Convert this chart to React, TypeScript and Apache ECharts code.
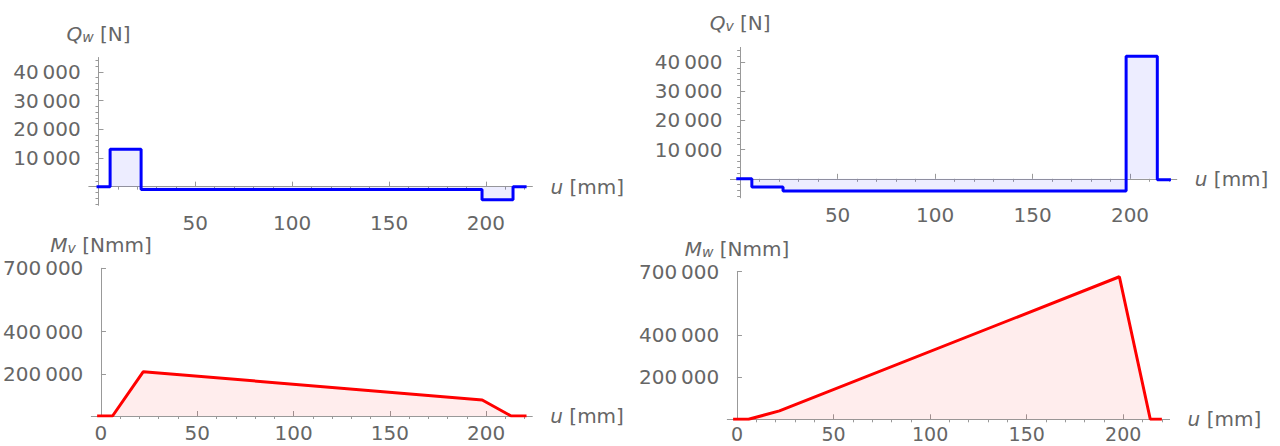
import React, { useEffect, useRef } from "react";
import * as echarts from "echarts";

// ---- data (u in mm, forces in N, moments in Nmm) ----
const qwPoints: [number, number][] = [[-1, 0], [6, 13000], [22, -1000], [198, -4600], [214, 0], [221, 0]];
const qvPoints: [number, number][] = [[-2, 0], [6, -2800], [22, -4200], [198, 42000], [214, -300], [221, -300]];
const mvPoints: [number, number][] = [[-2, 0], [6, 0], [22, 210000], [198, 76000], [213, 0], [221, 0]];
const mwPoints: [number, number][] = [[-2, 0], [6, 0], [22, 40000], [198, 676000], [214, 0], [220, 0]];

const uMajorTicks = [0, 50, 100, 150, 200];
const uMinorTicks = [10, 20, 30, 40, 60, 70, 80, 90, 110, 120, 130, 140, 160, 170, 180, 190, 210, 220];
const uLabelsTop = [50, 100, 150, 200];
const uLabelsBottom = [0, 50, 100, 150, 200];

const qMajorTicks = [0, 10000, 20000, 30000, 40000];
const qLabels = [10000, 20000, 30000, 40000];
const qMinorTicks = [-6000, -4000, -2000, 2000, 4000, 6000, 8000, 12000, 14000, 16000, 18000, 22000, 24000, 26000, 28000, 32000, 34000, 36000, 38000, 42000, 44000];

const mTicks = [200000, 400000, 700000];

const FONT = "DejaVu Sans";
const LABEL_COLOR = "#666666";
const AXIS_COLOR = "#999999";

const fmt = (v: number) => {
  const s = String(Math.round(v));
  if (s.length <= 4) return s;
  return s.slice(0, s.length - 3) + "\u2009" + s.slice(s.length - 3);
};

const rich = {
  it: { fontStyle: "italic", fontFamily: FONT, fontSize: 20, color: LABEL_COLOR, lineHeight: 20 },
  sub: { fontStyle: "italic", fontFamily: FONT, fontSize: 14, color: LABEL_COLOR, lineHeight: 12, verticalAlign: "bottom" },
  n: { fontFamily: FONT, fontSize: 20, color: LABEL_COLOR, lineHeight: 20 },
};

type Panel = {
  left: number; top: number; width: number; height: number;
  yMin: number; yMax: number;
  yName: string; yLabels: number[]; yMajor: number[]; yMinor: number[];
  xLabels: number[]; yNameGap: number; xLabelMargin: number; xLabelSize: number;
  data: [number, number][]; step: boolean; color: string; fill: string;
};

const panels: Panel[] = [
  { left: 88.8, top: 57.5, width: 443.6, height: 147.8, yMin: -6500, yMax: 45000,
    yName: "{it|Q}{sub|w}{n| [N]}", yLabels: qLabels, yMajor: qMajorTicks, yMinor: qMinorTicks,
    xLabels: uLabelsTop, yNameGap: 14, xLabelMargin: 9, xLabelSize: 20,
    data: qwPoints, step: true, color: "#0000ff", fill: "rgba(0,0,255,0.1)" },
  { left: 730.4, top: 47.4, width: 446.4, height: 150.4, yMin: -6500, yMax: 45000,
    yName: "{it|Q}{sub|v}{n| [N]}", yLabels: qLabels, yMajor: qMajorTicks, yMinor: qMinorTicks,
    xLabels: uLabelsTop, yNameGap: 14, xLabelMargin: 9, xLabelSize: 20,
    data: qvPoints, step: true, color: "#0000ff", fill: "rgba(0,0,255,0.1)" },
  { left: 88, top: 268.3, width: 444.3, height: 147.7, yMin: 0, yMax: 700000,
    yName: "{it|M}{sub|v}{n| [Nmm]}", yLabels: mTicks, yMajor: mTicks, yMinor: [],
    xLabels: uLabelsBottom, yNameGap: 13, xLabelMargin: 8, xLabelSize: 20,
    data: mvPoints, step: false, color: "#ff0000", fill: "rgba(255,0,0,0.1)" },
  { left: 727.3, top: 271.7, width: 442.3, height: 147.6, yMin: 0, yMax: 700000,
    yName: "{it|M}{sub|w}{n| [Nmm]}", yLabels: mTicks, yMajor: mTicks, yMinor: [],
    xLabels: uLabelsBottom, yNameGap: 13, xLabelMargin: 6, xLabelSize: 19,
    data: mwPoints, step: false, color: "#ff0000", fill: "rgba(255,0,0,0.1)" },
];

export default function App() {
  const ref = useRef<HTMLDivElement>(null);
  useEffect(() => {
    if (!ref.current) return;
    const chart = echarts.init(ref.current, null, { renderer: "svg" });
    const grid: any[] = [];
    const xAxis: any[] = [];
    const yAxis: any[] = [];
    const series: any[] = [];
    panels.forEach((p, i) => {
      grid.push({ left: p.left, top: p.top, width: p.width, height: p.height, containLabel: false });
      // main x axis
      xAxis.push({
        type: "value", gridIndex: i, min: -5, max: 224,
        splitLine: { show: false },
        axisLine: { show: true, onZero: true, lineStyle: { color: AXIS_COLOR, width: 1 } },
        axisTick: { show: true, inside: true, length: 5, customValues: uMajorTicks, lineStyle: { color: AXIS_COLOR } },
        axisLabel: { show: true, customValues: p.xLabels, margin: p.xLabelMargin, lineHeight: 17, fontFamily: FONT, fontSize: p.xLabelSize, color: LABEL_COLOR, formatter: (v: number) => fmt(v) },
        name: "{it|u}{n| [mm]}", nameLocation: "end", nameGap: 18,
        nameTextStyle: { rich, align: "left", verticalAlign: "middle" },
      });
      // minor x ticks
      xAxis.push({
        type: "value", gridIndex: i, min: -5, max: 224,
        splitLine: { show: false },
        axisLine: { show: false, onZero: true },
        axisTick: { show: true, inside: true, length: 3, customValues: uMinorTicks, lineStyle: { color: AXIS_COLOR } },
        axisLabel: { show: false },
      });
      // main y axis
      yAxis.push({
        type: "value", gridIndex: i, min: p.yMin, max: p.yMax,
        splitLine: { show: false },
        axisLine: { show: true, onZero: true, onZeroAxisIndex: 2 * i, lineStyle: { color: AXIS_COLOR, width: 1 } },
        axisTick: { show: true, inside: true, length: 5, customValues: p.yMajor, lineStyle: { color: AXIS_COLOR } },
        axisLabel: { show: true, customValues: p.yLabels, margin: 8, lineHeight: 17, fontFamily: FONT, fontSize: 20, color: LABEL_COLOR, formatter: (v: number) => fmt(v) },
        name: p.yName, nameLocation: "end", nameGap: p.yNameGap,
        nameTextStyle: { rich },
      });
      // minor y ticks
      yAxis.push({
        type: "value", gridIndex: i, min: p.yMin, max: p.yMax,
        splitLine: { show: false },
        axisLine: { show: false, onZero: true, onZeroAxisIndex: 2 * i },
        axisTick: { show: p.yMinor.length > 0, inside: true, length: 3, customValues: p.yMinor, lineStyle: { color: AXIS_COLOR } },
        axisLabel: { show: false },
      });
      series.push({
        type: "line", xAxisIndex: 2 * i, yAxisIndex: 2 * i,
        data: p.data, step: p.step ? "end" : false,
        symbol: "none", smooth: false,
        lineStyle: { color: p.color, width: 3 },
        itemStyle: { color: p.color },
        areaStyle: { color: p.fill, origin: 0 },
        z: 3,
      });
    });
    chart.setOption({
      animation: false,
      backgroundColor: "#ffffff",
      grid, xAxis, yAxis, series,
    });
    return () => chart.dispose();
  }, []);
  return <div ref={ref} style={{ position: "fixed", left: 0, top: 0, width: 1280, height: 446 }} />;
}
